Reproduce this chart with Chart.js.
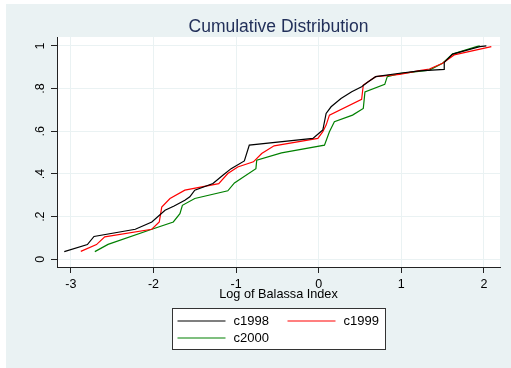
<!DOCTYPE html>
<html>
<head>
<meta charset="utf-8">
<script src="https://cdn.jsdelivr.net/npm/chart.js@4.4.0/dist/chart.umd.min.js"></script>
<style>
  html, body { margin: 0; padding: 0; background: #fff; }
  #wrap { width: 511px; height: 368px; }
</style>
</head>
<body>
<div id="wrap"><canvas id="cdf" width="511" height="368"></canvas></div>
<script>
// empirical CDF points per year: [log Balassa index, cumulative share]
const c1998 = [
  [-3.08, 0.036], [-2.80, 0.069], [-2.72, 0.107], [-2.22, 0.141], [-2.02, 0.175],
  [-1.86, 0.230], [-1.75, 0.250], [-1.62, 0.277], [-1.56, 0.293], [-1.50, 0.324],
  [-1.28, 0.355], [-1.16, 0.394], [-1.06, 0.425], [-0.90, 0.461], [-0.84, 0.535],
  [-0.07, 0.567], [0.00, 0.590], [0.05, 0.606], [0.09, 0.684], [0.15, 0.715],
  [0.27, 0.754], [0.40, 0.785], [0.52, 0.809], [0.60, 0.832], [0.69, 0.856],
  [0.98, 0.872], [1.22, 0.883], [1.52, 0.890], [1.52, 0.923], [1.62, 0.962],
  [1.95, 0.997], [2.03, 1.000]
];
const c1999 = [
  [-2.88, 0.037], [-2.69, 0.069], [-2.59, 0.105], [-2.02, 0.141], [-1.93, 0.175],
  [-1.90, 0.245], [-1.80, 0.285], [-1.62, 0.324], [-1.21, 0.355], [-1.10, 0.402],
  [-0.98, 0.433], [-0.79, 0.457], [-0.69, 0.496], [-0.54, 0.532], [-0.01, 0.567],
  [0.05, 0.598], [0.09, 0.629], [0.13, 0.676], [0.52, 0.750], [0.54, 0.817],
  [0.69, 0.856], [0.98, 0.867], [1.22, 0.884], [1.34, 0.892], [1.50, 0.919],
  [1.64, 0.958], [2.09, 0.997]
];
const c2000 = [
  [-2.71, 0.036], [-2.55, 0.070], [-2.02, 0.141], [-1.76, 0.175], [-1.68, 0.214],
  [-1.65, 0.253], [-1.50, 0.285], [-1.10, 0.321], [-1.02, 0.358], [-0.76, 0.425],
  [-0.75, 0.465], [-0.45, 0.499], [0.07, 0.535], [0.13, 0.598], [0.19, 0.645],
  [0.41, 0.676], [0.54, 0.707], [0.56, 0.785], [0.80, 0.820], [0.83, 0.856],
  [0.98, 0.870], [1.34, 0.887], [1.50, 0.919], [1.62, 0.962], [1.91, 0.997],
  [1.95, 1.000]
];

const xTicks = [-3, -2, -1, 0, 1, 2];
const yTicks = [0, 0.2, 0.4, 0.6, 0.8, 1];
const yTickLabels = ['0', '.2', '.4', '.6', '.8', '1'];

const FONT = "'Liberation Sans', Arial, Helvetica, sans-serif";

const toXY = pts => pts.map(([x, y]) => ({ x, y }));

// grey graph region with a white plot region on top
const backdrop = {
  id: 'backdrop',
  beforeDraw(chart) {
    const { ctx, chartArea: a } = chart;
    ctx.save();
    ctx.fillStyle = '#ffffff';
    ctx.fillRect(0, 0, chart.width, chart.height);
    ctx.fillStyle = '#eaf2f3';
    ctx.fillRect(6, 4, chart.width - 6, chart.height - 4);
    ctx.fillStyle = '#ffffff';
    ctx.fillRect(a.left, a.top, a.right - a.left, a.bottom - a.top);
    ctx.restore();
  }
};

// boxed two-column legend under the x axis title
const boxLegend = {
  id: 'boxLegend',
  afterDraw(chart) {
    const { ctx, chartArea: a } = chart;
    const w = 213, h = 41;
    const left = Math.round((a.left + a.right) / 2 - w / 2) + 0.5;
    const top = Math.round(chart.scales.x.bottom + 6) + 0.5;
    ctx.save();
    ctx.fillStyle = '#ffffff';
    ctx.fillRect(left, top, w, h);
    ctx.strokeStyle = '#333333';
    ctx.lineWidth = 1;
    ctx.strokeRect(left, top, w, h);
    ctx.font = '13px ' + FONT;
    ctx.textBaseline = 'middle';
    ctx.textAlign = 'left';
    chart.data.datasets.forEach((ds, i) => {
      const col = i % 2, row = Math.floor(i / 2);
      const x0 = left + 5 + col * 110;
      const y0 = top + 12.5 + row * 17;
      ctx.strokeStyle = ds.borderColor;
      ctx.lineWidth = 1.2;
      ctx.beginPath();
      ctx.moveTo(x0, y0);
      ctx.lineTo(x0 + 48, y0);
      ctx.stroke();
      ctx.fillStyle = '#000000';
      ctx.fillText(ds.label, x0 + 56, y0 + 0.5);
    });
    ctx.restore();
  }
};

const lineStyle = { showLine: true, pointRadius: 0, borderWidth: 1.2, tension: 0, fill: false };

new Chart(document.getElementById('cdf'), {
  type: 'scatter',
  data: {
    datasets: [
      { label: 'c1998', data: toXY(c1998), borderColor: '#000000', ...lineStyle },
      { label: 'c1999', data: toXY(c1999), borderColor: '#ff0000', ...lineStyle },
      { label: 'c2000', data: toXY(c2000), borderColor: '#008000', ...lineStyle },
    ],
  },
  options: {
    responsive: false,
    animation: false,
    devicePixelRatio: 1,
    layout: { padding: { top: 0, left: 0, right: 11, bottom: 66 } },
    scales: {
      x: {
        type: 'linear',
        min: -3.168,
        max: 2.195,
        afterBuildTicks: s => { s.ticks = xTicks.map(v => ({ value: v })); },
        afterFit: s => { s.height = 35; },
        grid: { color: '#eaf2f3', tickLength: 6, tickColor: '#222222' },
        border: { color: '#222222', width: 1 },
        ticks: {
          padding: 4,
          maxRotation: 0,
          autoSkip: false,
          color: '#000000',
          font: { family: FONT, size: 12.5 },
          callback: v => String(v),
        },
        title: {
          display: true,
          text: 'Log of Balassa Index',
          color: '#000000',
          font: { family: FONT, size: 12.7 },
          padding: 0,
        },
      },
      y: {
        type: 'linear',
        min: -0.036,
        max: 1.042,
        afterBuildTicks: s => { s.ticks = yTicks.map(v => ({ value: v })); },
        afterFit: s => { s.width = 57; },
        grid: { color: '#eaf2f3', tickLength: 6, tickColor: '#222222' },
        border: { color: '#222222', width: 1 },
        ticks: {
          minRotation: 90,
          maxRotation: 90,
          crossAlign: 'center',
          padding: 5,
          autoSkip: false,
          color: '#000000',
          font: { family: FONT, size: 12.5 },
          callback: (v, i) => yTickLabels[i],
        },
      },
    },
    plugins: {
      legend: { display: false },
      tooltip: { enabled: false },
      title: {
        display: true,
        text: 'Cumulative Distribution',
        fullSize: false,
        color: '#22305a',
        font: { family: FONT, size: 17.5, weight: 'normal', lineHeight: 1 },
        padding: { top: 18, bottom: 1.5 },
      },
    },
  },
  plugins: [backdrop, boxLegend],
});
</script>
</body>
</html>
